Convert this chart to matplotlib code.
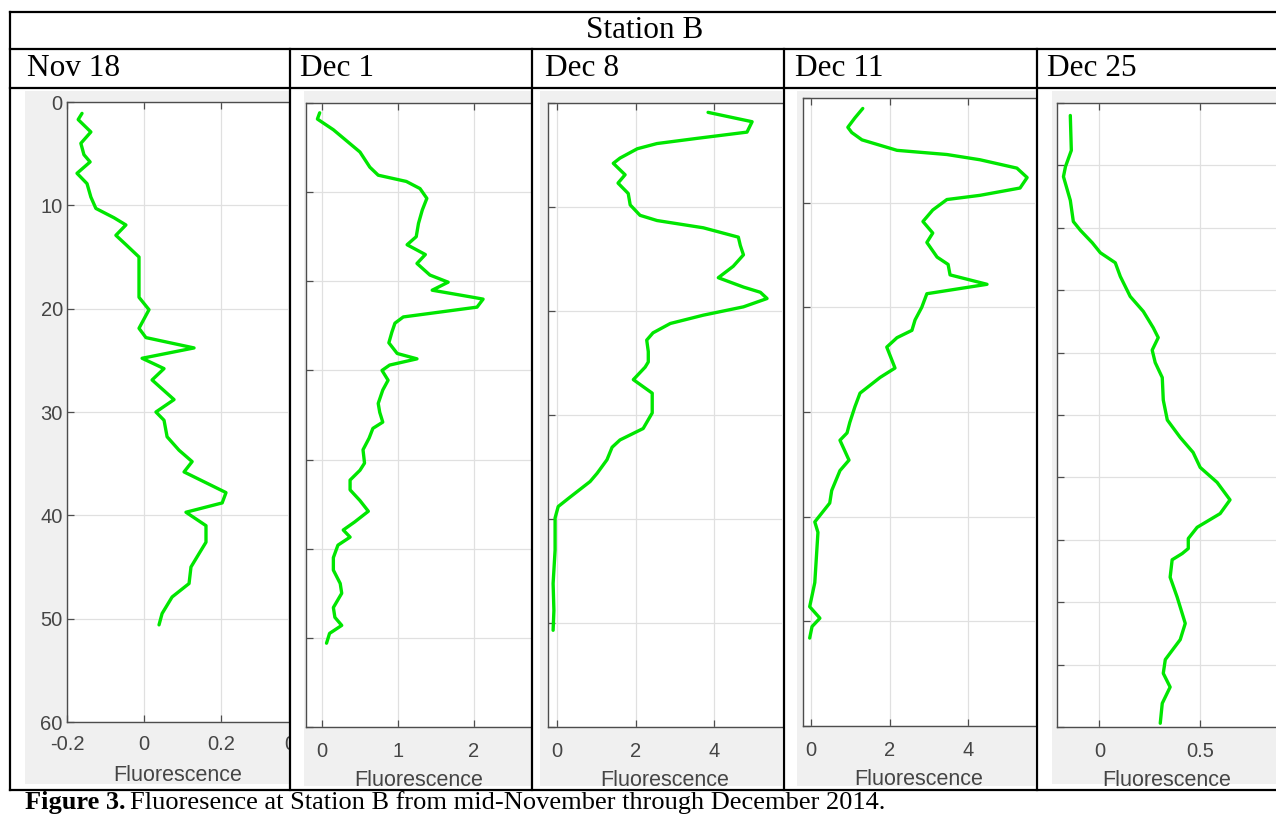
import matplotlib
matplotlib.use('Agg')
import matplotlib.pyplot as plt
from matplotlib.patches import Rectangle
from matplotlib.lines import Line2D
from matplotlib.transforms import Bbox, offset_copy

# profile data (depth in m, fluorescence)
dates = ['Nov 18', 'Dec 1', 'Dec 8', 'Dec 11', 'Dec 25']

nov18_depth = [1.1, 1.7, 2.9, 4.0, 5.1, 5.8, 6.9, 7.9, 9.2, 10.3, 11.2, 11.9, 12.9, 13.8, 15.0, 18.9,
               20.1, 21.9, 22.8, 23.8, 24.8, 25.8, 26.9, 28.8, 30.0, 30.8, 32.4, 33.7, 34.8, 35.8,
               37.8, 38.8, 39.7, 41.0, 42.6, 43.7, 45.0, 46.6, 47.9, 49.5, 50.6]
nov18_fluor = [-0.161, -0.171, -0.138, -0.164, -0.156, -0.140, -0.174, -0.148, -0.138, -0.125, -0.078,
               -0.047, -0.073, -0.047, -0.013, -0.013, 0.013, -0.013, 0.005, 0.130, -0.005, 0.052,
               0.021, 0.078, 0.031, 0.052, 0.060, 0.091, 0.125, 0.104, 0.213, 0.203, 0.109, 0.161,
               0.161, 0.143, 0.122, 0.117, 0.073, 0.047, 0.039]

dec1_depth = [1.1, 1.8, 3.0, 5.5, 7.2, 8.1, 8.8, 9.6, 10.7, 12.0, 13.5, 15.0, 15.9, 17.0, 18.0, 19.3,
              20.1, 21.0, 21.8, 22.0, 22.9, 24.0, 24.7, 25.7, 26.9, 28.1, 28.7, 29.4, 30.0, 31.1,
              32.2, 33.7, 34.7, 35.8, 36.5, 37.6, 38.9, 40.4, 41.2, 42.3, 43.4, 44.6, 45.8, 47.0,
              47.9, 48.7, 49.6, 51.0, 52.4, 53.9, 55.0, 56.6, 57.7, 58.6, 59.5, 60.6]
dec1_fluor = [-0.03, -0.06, 0.15, 0.50, 0.63, 0.74, 1.11, 1.29, 1.38, 1.32, 1.27, 1.24, 1.12, 1.36,
              1.25, 1.42, 1.66, 1.45, 1.99, 2.12, 2.04, 1.07, 0.96, 0.92, 0.88, 0.99, 1.25, 0.89,
              0.79, 0.87, 0.80, 0.74, 0.76, 0.80, 0.67, 0.62, 0.54, 0.56, 0.50, 0.37, 0.37, 0.50,
              0.61, 0.43, 0.28, 0.37, 0.21, 0.15, 0.15, 0.24, 0.26, 0.15, 0.17, 0.26, 0.10, 0.06]

dec8_depth = [0.9, 1.8, 2.8, 3.4, 3.9, 4.4, 5.3, 5.8, 6.9, 7.7, 8.7, 9.8, 10.8, 11.3, 12.0, 12.9,
              13.7, 14.6, 15.7, 16.8, 17.7, 18.2, 18.8, 19.6, 20.4, 21.2, 22.1, 22.8, 23.9, 24.9,
              25.4, 26.6, 27.9, 29.8, 31.3, 32.4, 33.1, 34.3, 35.6, 36.4, 37.9, 38.8, 39.9, 43.0,
              46.2, 48.8, 50.7]
dec8_fluor = [3.84, 4.96, 4.83, 3.56, 2.54, 2.04, 1.60, 1.43, 1.73, 1.55, 1.81, 1.86, 2.11, 2.54,
              3.72, 4.61, 4.66, 4.74, 4.48, 4.10, 4.74, 5.17, 5.34, 4.74, 3.72, 2.88, 2.44, 2.28,
              2.32, 2.32, 2.24, 1.94, 2.42, 2.42, 2.19, 1.60, 1.40, 1.27, 1.02, 0.84, 0.33, 0.03,
              -0.05, -0.05, -0.10, -0.08, -0.10]

dec11_depth = [1.0, 1.9, 2.8, 3.3, 4.0, 5.0, 5.4, 5.9, 6.7, 7.6, 8.6, 9.3, 9.7, 10.7, 11.8, 12.9,
               13.8, 15.2, 15.9, 16.9, 17.8, 18.7, 20.0, 21.2, 22.2, 22.9, 23.8, 25.8, 26.7, 28.2,
               29.5, 31.0, 32.0, 32.7, 34.6, 35.6, 37.5, 38.7, 40.5, 41.5, 46.3, 48.6, 49.7, 50.5, 51.6]
dec11_fluor = [1.32, 1.12, 0.94, 1.04, 1.30, 2.19, 3.46, 4.30, 5.24, 5.50, 5.32, 4.30, 3.46, 3.10,
               2.85, 3.10, 2.95, 3.21, 3.49, 3.54, 4.48, 2.95, 2.82, 2.65, 2.57, 2.19, 1.93, 2.14,
               1.76, 1.25, 1.12, 0.99, 0.92, 0.74, 0.97, 0.74, 0.53, 0.48, 0.10, 0.18, 0.10, -0.03,
               0.23, 0.03, -0.03]

dec25_depth = [1.0, 3.8, 5.1, 5.9, 7.8, 9.5, 10.2, 11.2, 12.0, 12.8, 13.9, 15.5, 16.7, 18.0, 18.8,
               19.8, 20.8, 22.0, 23.8, 25.4, 26.8, 28.0, 29.2, 30.4, 31.8, 32.9, 34.0, 34.9, 35.7,
               36.1, 36.6, 38.0, 39.6, 41.7, 43.0, 44.6, 45.7, 46.8, 48.1, 49.7]
dec25_fluor = [-0.144, -0.139, -0.168, -0.178, -0.144, -0.129, -0.094, -0.035, 0.005, 0.079, 0.104,
               0.153, 0.218, 0.267, 0.292, 0.262, 0.277, 0.312, 0.317, 0.337, 0.401, 0.465, 0.500,
               0.584, 0.648, 0.599, 0.485, 0.441, 0.441, 0.411, 0.361, 0.351, 0.386, 0.426, 0.401,
               0.327, 0.317, 0.351, 0.312, 0.302]

W, H = 1276, 816
SERIF = 'Liberation Serif'
SANS = 'Liberation Sans'
GREEN = '#00e600'
PANEL_BG = '#f0f0f0'
TICK_COLOR = '#454545'
TICK_FS = 14.5


def px_rect(x0, y0, x1, y1):
    # pixel box (top-left origin) -> figure fraction rect
    return [x0 / W, 1 - y1 / H, (x1 - x0) / W, (y1 - y0) / H]


fig = plt.figure(figsize=(W / 100, H / 100), dpi=100)
fig.patch.set_facecolor('white')

# panel setups: gray box, axes box, xlim, depth max, xticks, labels, yticks, y labels?,
# tick pad, label pad, data
panels = [
    ((25, 91, 289, 784), (67, 102, 288, 722), (-0.2, 0.374), 60, [-0.2, 0, 0.2], ['-0.2', '0', '0.2'],
     range(0, 61, 10), True, 9, 8.5, nov18_fluor, nov18_depth),
    ((304, 91, 531, 786), (306, 103, 531, 727), (-0.21, 2.75), 70, [0, 1, 2], ['0', '1', '2'],
     range(0, 71, 10), False, 11, 6.5, dec1_fluor, dec1_depth),
    ((540, 91, 782, 786), (548, 103, 782, 727), (-0.23, 5.72), 60, [0, 2, 4], ['0', '2', '4'],
     range(0, 61, 10), False, 11, 6.5, dec8_fluor, dec8_depth),
    ((797, 91, 1035, 786), (803, 98, 1035, 726), (-0.2, 5.70), 60, [0, 2, 4], ['0', '2', '4'],
     range(0, 61, 10), False, 11, 6.5, dec11_fluor, dec11_depth),
    ((1052, 91, 1276, 784), (1057, 103, 1276, 727), (-0.21, 0.876), 50, [0, 0.5], ['0', '0.5'],
     range(0, 51, 5), False, 11, 6.5, dec25_fluor, dec25_depth),
]

for gray, box, xlim, ymax, xt, xtl, yt, ylab, xpad, lpad, fl, dp in panels:
    gx0, gy0, gx1, gy1 = gray
    fig.patches.append(Rectangle((gx0 / W, 1 - gy1 / H), (gx1 - gx0) / W, (gy1 - gy0) / H,
                                 transform=fig.transFigure, facecolor=PANEL_BG, edgecolor='none',
                                 zorder=-10))
    ax = fig.add_axes(px_rect(*box))
    ax.set_facecolor('white')
    ax.plot(fl, dp, color=GREEN, lw=2.4, solid_joinstyle='round', solid_capstyle='round', zorder=3)
    ax.set_xlim(*xlim)
    ax.set_ylim(ymax, 0)
    ax.set_xticks(xt)
    ax.set_xticklabels(xtl)
    ax.set_yticks(list(yt))
    if ylab:
        ax.set_yticklabels([str(v) for v in yt])
    else:
        ax.set_yticklabels([])
    ax.grid(True, color='#e0e0e0', lw=0.9)
    ax.set_axisbelow(True)
    for side in ['left', 'top', 'bottom']:
        ax.spines[side].set_color('#4d4d4d')
        ax.spines[side].set_linewidth(1.0)
    ax.spines['right'].set_visible(False)
    ax.tick_params(direction='in', length=5, width=0.9, color='#4d4d4d', top=True,
                   labelsize=TICK_FS, labelcolor=TICK_COLOR)
    ax.tick_params(axis='x', pad=xpad)
    ax.tick_params(axis='y', pad=3)
    for t in ax.get_xticklabels() + ax.get_yticklabels():
        t.set_fontfamily(SANS)
    ax.set_xlabel('Fluorescence', fontsize=15.5, color=TICK_COLOR, family=SANS, labelpad=lpad)

    if ylab:
        # the 0.4 label of the first panel is cut by the panel edge
        t = ax.text(0.4, ymax, '0.4', ha='center', va='top', fontsize=TICK_FS, color=TICK_COLOR,
                    family=SANS,
                    transform=offset_copy(ax.transData, fig=fig, x=0, y=-xpad * 100 / 72, units='dots'))
        t.set_clip_on(True)
        t.set_clip_box(Bbox.from_extents(gx0, H - gy1, gx1, H - gy0))

# table grid lines
lw_tab = 1.6


def hline(y, x0, x1):
    fig.add_artist(Line2D([x0 / W, x1 / W], [1 - y / H, 1 - y / H], color='black', lw=lw_tab,
                          transform=fig.transFigure, zorder=5))


def vline(x, y0, y1):
    fig.add_artist(Line2D([x / W, x / W], [1 - y0 / H, 1 - y1 / H], color='black', lw=lw_tab,
                          transform=fig.transFigure, zorder=5))


hline(12, 10, W)
hline(49, 10, W)
hline(88, 10, W)
hline(790, 10, W)
vline(10, 12, 790)
for xc in [290, 532, 784, 1037]:
    vline(xc, 49, 790)

fig.text(645 / W, 1 - 31 / H, 'Station B', ha='center', va='center', fontsize=22.5, family=SERIF)
for x0, lab in zip([27, 300, 545, 795, 1047], dates):
    fig.text(x0 / W, 1 - 69 / H, lab, ha='left', va='center', fontsize=22.5, family=SERIF)

# caption: bold lead-in followed by regular text
cap1 = fig.text(25 / W, 1 - 803 / H, 'Figure 3.', ha='left', va='center', fontsize=19,
                family=SERIF, weight='bold')
renderer = fig.canvas.get_renderer()
bb = cap1.get_window_extent(renderer=renderer)
fig.text((bb.x1 + 5) / W, 1 - 803 / H, 'Fluoresence at Station B from mid-November through December 2014.',
         ha='left', va='center', fontsize=19, family=SERIF)

fig.savefig('out.png', dpi=100)
